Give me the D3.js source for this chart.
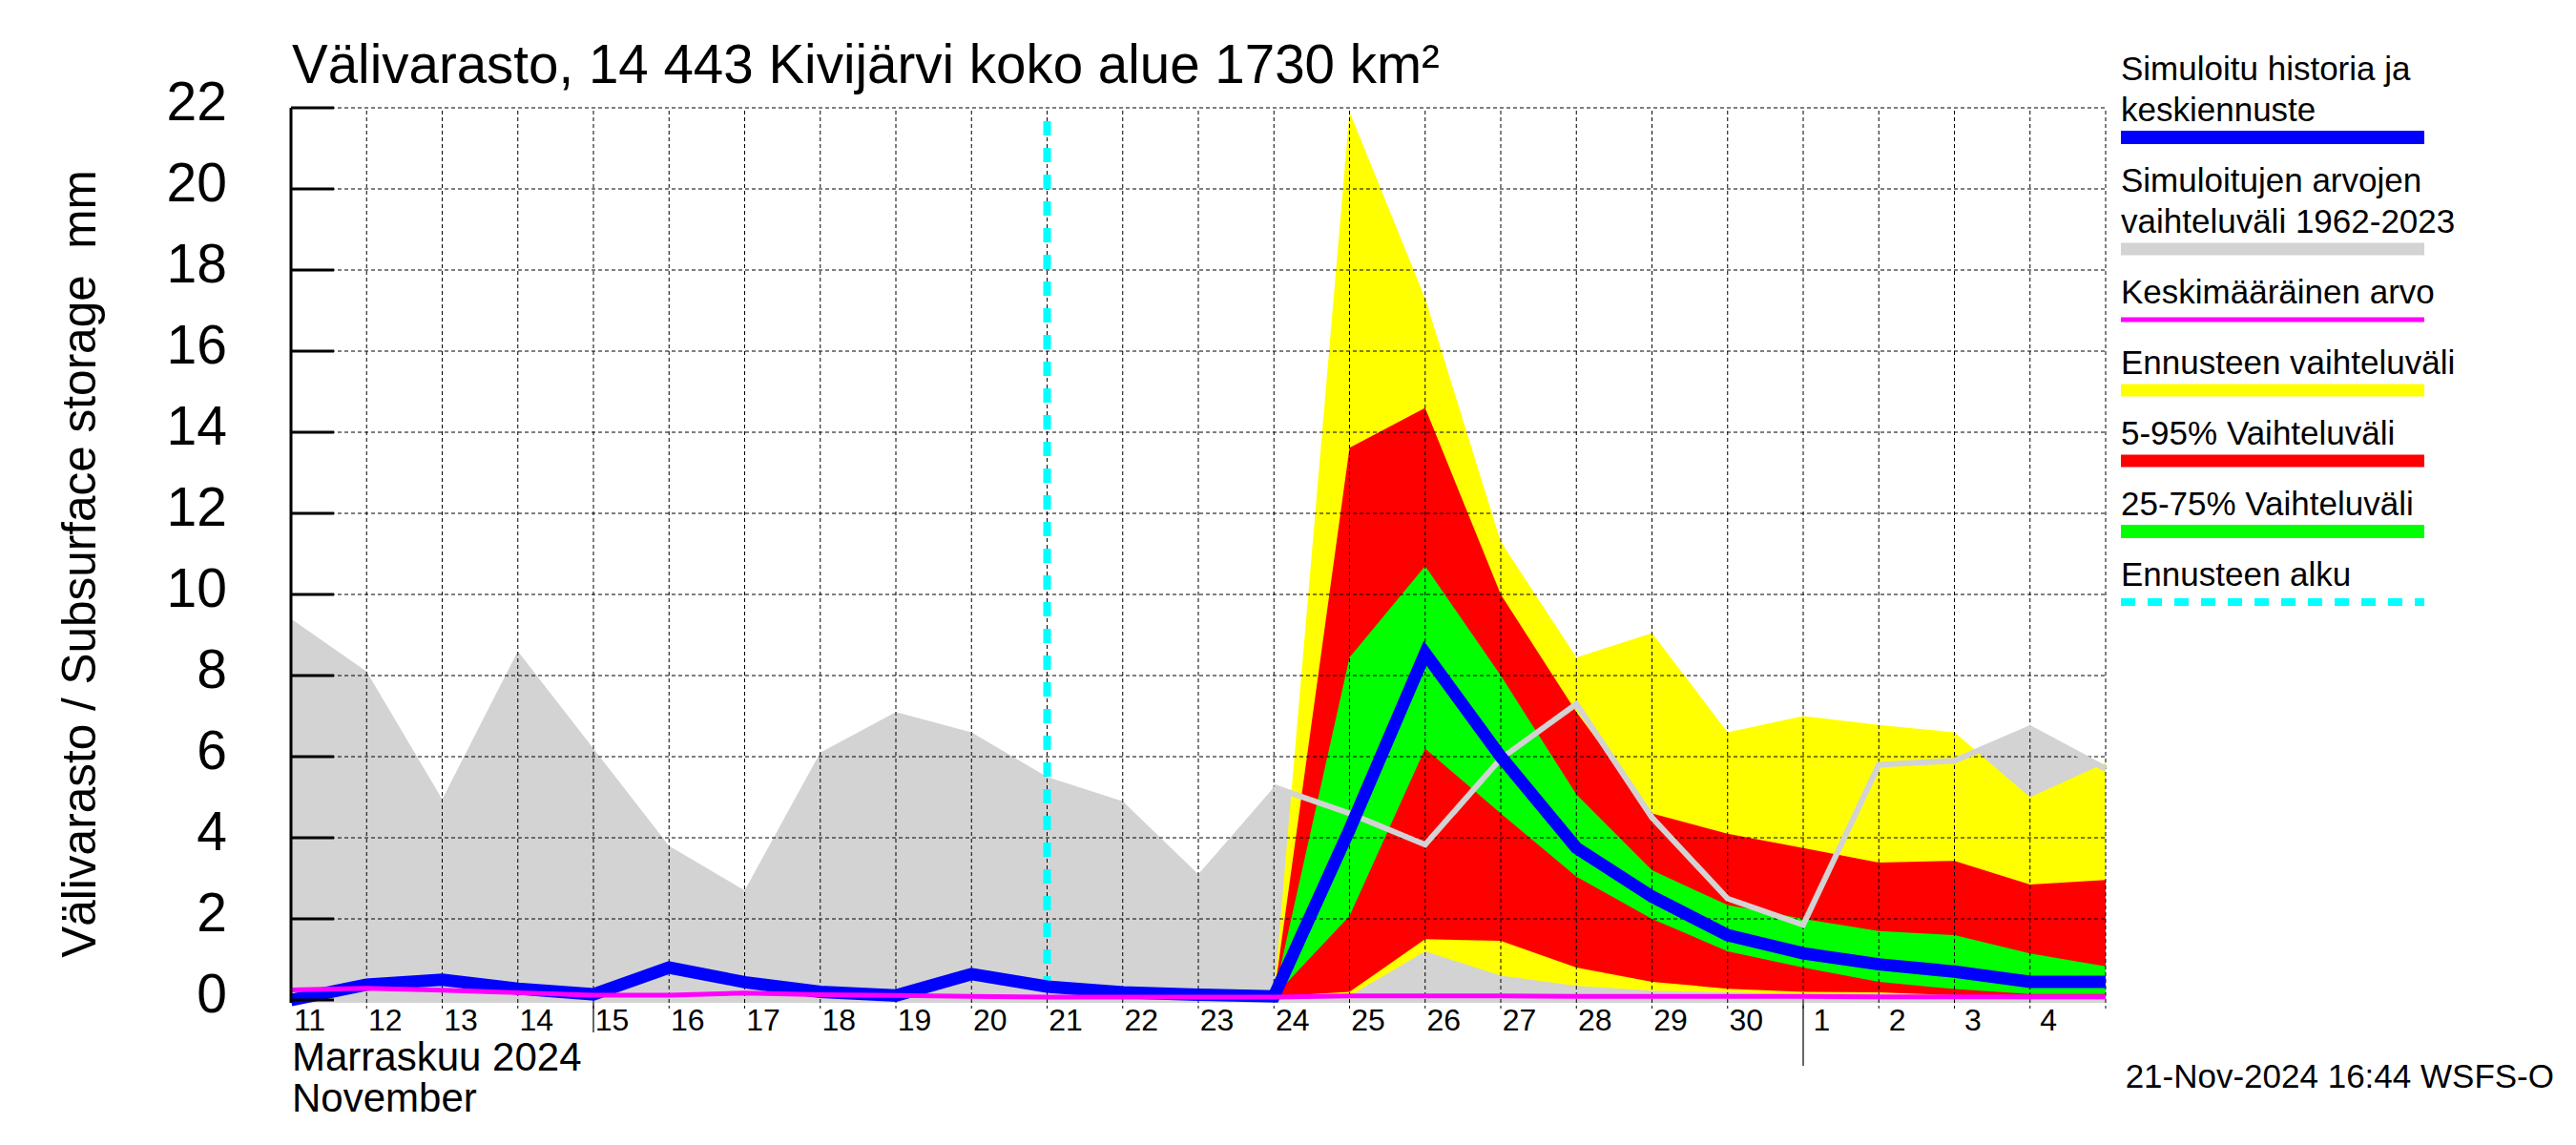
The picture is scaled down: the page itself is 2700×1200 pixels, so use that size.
<!DOCTYPE html>
<html>
<head>
<meta charset="utf-8">
<script src="https://cdn.jsdelivr.net/npm/d3@7"></script>
<style>
  body { margin: 0; background: #fff; }
  text { font-family: "Liberation Sans", Arial, sans-serif; fill: #000; }
</style>
</head>
<body>
<div id="chart"></div>
<script>
// Days shown on the x axis (11 Nov - 5 Dec 2024)
var days = ["2024-11-11","2024-11-12","2024-11-13","2024-11-14","2024-11-15","2024-11-16",
  "2024-11-17","2024-11-18","2024-11-19","2024-11-20","2024-11-21","2024-11-22","2024-11-23",
  "2024-11-24","2024-11-25","2024-11-26","2024-11-27","2024-11-28","2024-11-29","2024-11-30",
  "2024-12-01","2024-12-02","2024-12-03","2024-12-04","2024-12-05"];
var dayLabels = ["11","12","13","14","15","16","17","18","19","20","21","22","23","24",
  "25","26","27","28","29","30","1","2","3","4"];
var yTicks = [0,2,4,6,8,10,12,14,16,18,20,22];

// Simulated range 1962-2023, upper limit (whole period)
var histMax = [9.4, 8.1, 4.95, 8.6, 6.2, 3.8, 2.7, 6.1, 7.1, 6.6, 5.5, 4.9, 3.1,
  5.25, 4.6, 3.83, 5.95, 7.3, 4.5, 2.5, 1.85, 5.8, 5.9, 6.7, 5.7];
// Mean value
var meanValue = [0.25, 0.29, 0.24, 0.18, 0.12, 0.12, 0.17, 0.13, 0.11, 0.09, 0.07, 0.07, 0.07,
  0.07, 0.1, 0.1, 0.1, 0.09, 0.09, 0.09, 0.09, 0.08, 0.08, 0.08, 0.08];
// Simulated history and mean forecast
var simulated = [0.0, 0.38, 0.5, 0.28, 0.14, 0.8, 0.44, 0.2, 0.11, 0.64, 0.33, 0.19, 0.13,
  0.09, 4.2, 8.55, 6.0, 3.75, 2.55, 1.6, 1.15, 0.88, 0.7, 0.45, 0.45];

// Forecast bands, from 24 Nov onwards
var fcStart = 13;
var fcMax   = [0.09, 21.9, 17.3, 11.3, 8.45, 9.05, 6.6, 7.0, 6.78, 6.6, 5.0, 5.85];
var fcP95   = [0.09, 13.62, 14.6, 10.0, 7.1, 4.6, 4.1, 3.75, 3.39, 3.43, 2.85, 2.96];
var fcP75   = [0.09, 8.45, 10.7, 8.0, 5.07, 3.2, 2.34, 2.0, 1.7, 1.6, 1.15, 0.83];
var fcP25   = [0.09, 2.07, 6.2, 4.6, 3.04, 2.0, 1.2, 0.8, 0.45, 0.27, 0.15, 0.15];
var fcP05   = [0.09, 0.2, 1.5, 1.46, 0.8, 0.45, 0.28, 0.2, 0.19, 0.12, 0.1, 0.1];
var fcMin   = [0.09, 0.1, 1.2, 0.6, 0.35, 0.23, 0.19, 0.15, 0.15, 0.1, 0.08, 0.08];
var forecastStartDay = "2024-11-21";

var legendItems = [
  {lines: ["Simuloitu historia ja", "keskiennuste"], color: "#0000ff", h: 14},
  {lines: ["Simuloitujen arvojen", "vaihteluväli 1962-2023"], color: "#d3d3d3", h: 13},
  {lines: ["Keskimääräinen arvo"], color: "#ff00ff", h: 5},
  {lines: ["Ennusteen vaihteluväli"], color: "#ffff00", h: 13},
  {lines: ["5-95% Vaihteluväli"], color: "#ff0000", h: 13},
  {lines: ["25-75% Vaihteluväli"], color: "#00ff00", h: 14},
  {lines: ["Ennusteen alku"], color: "#00ffff", h: 8, dash: true}
];

var W = 2700, H = 1200;
var pLeft = 305, pRight = 2207, pTop = 113, pBottom = 1051;

var parse = d3.utcParse("%Y-%m-%d");
var dates = days.map(parse);

var svg = d3.select("#chart").append("svg")
  .attr("width", W).attr("height", H);
svg.append("rect").attr("width", W).attr("height", H).attr("fill", "#fff");

var x = d3.scaleUtc().domain([dates[0], dates[dates.length - 1]]).range([pLeft, pRight]);
var y = d3.scaleLinear().domain([-0.07, 22]).range([pBottom, pTop]);

// gray historical band
var histArea = d3.area()
  .x(function(d, i) { return x(dates[i]); })
  .y0(pBottom)
  .y1(function(d) { return y(d); });
svg.append("path").datum(histMax).attr("d", histArea).attr("fill", "#d3d3d3");

// forecast bands
function band(lo, hi, color) {
  var a = d3.area()
    .x(function(d, i) { return x(dates[fcStart + i]); })
    .y0(function(d, i) { return y(lo[i]); })
    .y1(function(d, i) { return y(hi[i]); });
  svg.append("path").datum(hi).attr("d", a).attr("fill", color);
}
band(fcMin, fcMax, "#ffff00");
band(fcP05, fcP95, "#ff0000");
band(fcP25, fcP75, "#00ff00");

// grid
var grid = svg.append("g").attr("stroke", "#000").attr("stroke-width", 1)
  .attr("stroke-dasharray", "4,3").attr("fill", "none");
yTicks.filter(function(t) { return t > 0; }).forEach(function(t) {
  grid.append("line").attr("x1", pLeft).attr("x2", pRight)
    .attr("y1", y(t)).attr("y2", y(t));
});
dates.slice(1).forEach(function(d) {
  grid.append("line").attr("x1", x(d)).attr("x2", x(d))
    .attr("y1", pTop + 3).attr("y2", pBottom + 6);
});

// longer ticks under the axis (mid month and month change)
[parse("2024-11-15"), parse("2024-12-01")].forEach(function(d, k) {
  svg.append("line").attr("x1", x(d)).attr("x2", x(d))
    .attr("y1", pBottom).attr("y2", k == 0 ? 1082 : 1117)
    .attr("stroke", "#000").attr("stroke-width", 1.2);
});

// upper limit of the historical range over the forecast
var histLine = d3.line()
  .x(function(d) { return x(dates[d.i]); })
  .y(function(d) { return y(d.v); });
var histFc = histMax.map(function(v, i) { return {i: i, v: v}; })
  .filter(function(d) { return d.i >= fcStart; });
svg.append("path").datum(histFc).attr("d", histLine)
  .attr("fill", "none").attr("stroke", "#d3d3d3").attr("stroke-width", 6);

// forecast start
var xs = x(parse(forecastStartDay));
svg.append("line").attr("x1", xs).attr("x2", xs).attr("y1", 127).attr("y2", pBottom)
  .attr("stroke", "#00ffff").attr("stroke-width", 8).attr("stroke-dasharray", "15,13");

var line = d3.line()
  .x(function(d, i) { return x(dates[i]); })
  .y(function(d) { return y(d); });

svg.append("path").datum(simulated).attr("d", line)
  .attr("fill", "none").attr("stroke", "#0000ff").attr("stroke-width", 13);

svg.append("path").datum(meanValue).attr("d", line)
  .attr("fill", "none").attr("stroke", "#ff00ff").attr("stroke-width", 5);

// y axis
var yAxis = svg.append("g");
yAxis.append("line").attr("x1", pLeft).attr("x2", pLeft).attr("y1", pTop).attr("y2", pBottom)
  .attr("stroke", "#000").attr("stroke-width", 3);
yTicks.forEach(function(t) {
  yAxis.append("line").attr("x1", pLeft).attr("x2", pLeft + 45)
    .attr("y1", y(t)).attr("y2", y(t)).attr("stroke", "#000").attr("stroke-width", 3);
  yAxis.append("text").attr("x", 238).attr("y", y(t) + 13)
    .attr("text-anchor", "end").style("font-size", "57px").text(t);
});

svg.append("text")
  .attr("transform", "translate(100,591) rotate(-90)")
  .attr("text-anchor", "middle")
  .style("font-size", "49.5px")
  .attr("xml:space", "preserve")
  .text("Välivarasto / Subsurface storage  mm");

// x labels
dayLabels.forEach(function(lab, i) {
  svg.append("text").attr("x", x(dates[i]) + 19.5).attr("y", 1080)
    .attr("text-anchor", "middle").style("font-size", "32px").text(lab);
});
svg.append("text").attr("x", 306).attr("y", 1122).style("font-size", "42px").text("Marraskuu 2024");
svg.append("text").attr("x", 306).attr("y", 1165).style("font-size", "42px").text("November");

// title
svg.append("text").attr("x", 306).attr("y", 87).style("font-size", "56.5px")
  .text("Välivarasto, 14 443 Kivijärvi koko alue 1730 km²");

// footer
svg.append("text").attr("x", 2677).attr("y", 1140).attr("text-anchor", "end")
  .style("font-size", "35px").text("21-Nov-2024 16:44 WSFS-O");

// legend
var lg = svg.append("g");
var ly = 84;
legendItems.forEach(function(it) {
  it.lines.forEach(function(t, k) {
    lg.append("text").attr("x", 2223).attr("y", ly + k * 43)
      .style("font-size", "35px").text(t);
  });
  var barY = ly + (it.lines.length - 1) * 43 + 17;
  var r = lg.append("line").attr("x1", 2223).attr("x2", 2541)
    .attr("y1", barY).attr("y2", barY)
    .attr("stroke", it.color).attr("stroke-width", it.h);
  if (it.dash) r.attr("stroke-dasharray", "15,13");
  ly = barY + 57;
});
</script>
</body>
</html>
